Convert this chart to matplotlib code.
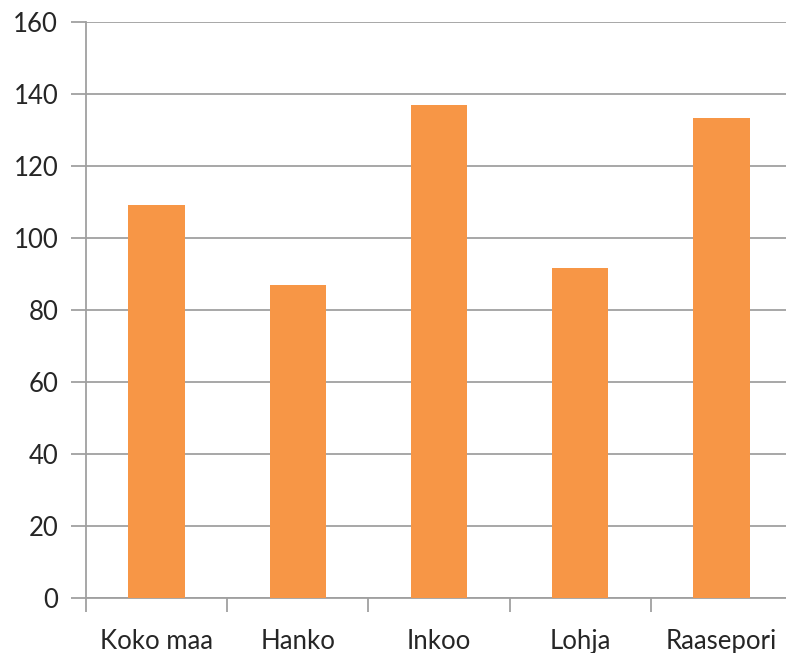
import matplotlib
matplotlib.use("Agg")
import matplotlib.pyplot as plt

categories = ["Koko maa", "Hanko", "Inkoo", "Lohja", "Raasepori"]
values = [109.0, 87.0, 136.8, 91.7, 133.4]
yticks = [0, 20, 40, 60, 80, 100, 120, 140, 160]

plt.rcParams['font.family'] = ['Lato', 'DejaVu Sans']

fig = plt.figure(figsize=(7.86, 6.53), dpi=100)
ax = fig.add_axes([86/786, 1-598/653, 706/786, (598-21.7)/653])

x = list(range(len(categories)))
ax.bar(x, values, width=0.4, color="#F79646", zorder=3)

ax.set_xlim(-0.5, len(categories) - 0.5)
ax.set_ylim(0, 160)
ax.set_yticks(yticks)
ax.set_yticklabels([str(v) for v in yticks], fontsize=18.5, color="#262626")
ax.yaxis.grid(True, color="#A0A0A0", linewidth=1.3, zorder=0)
ax.tick_params(axis='y', length=11, width=1.3, color="#A0A0A0", pad=9)

# category ticks at boundaries, labels at centers
ax.set_xticks([i - 0.5 for i in range(len(categories))], minor=False)
ax.set_xticklabels([])
ax.set_xticks(x, minor=True)
ax.set_xticklabels(categories, minor=True, fontsize=18.5, color="#262626")
ax.tick_params(axis='x', which='major', length=10, width=1.3, color="#A0A0A0")
ax.tick_params(axis='x', which='minor', length=0, pad=22)

for side in ["top", "right"]:
    ax.spines[side].set_visible(False)
ax.spines["left"].set_color("#A0A0A0")
ax.spines["left"].set_linewidth(1.3)
ax.spines["bottom"].set_color("#A0A0A0")
ax.spines["bottom"].set_linewidth(1.3)

fig.savefig("out.png", dpi=100)
